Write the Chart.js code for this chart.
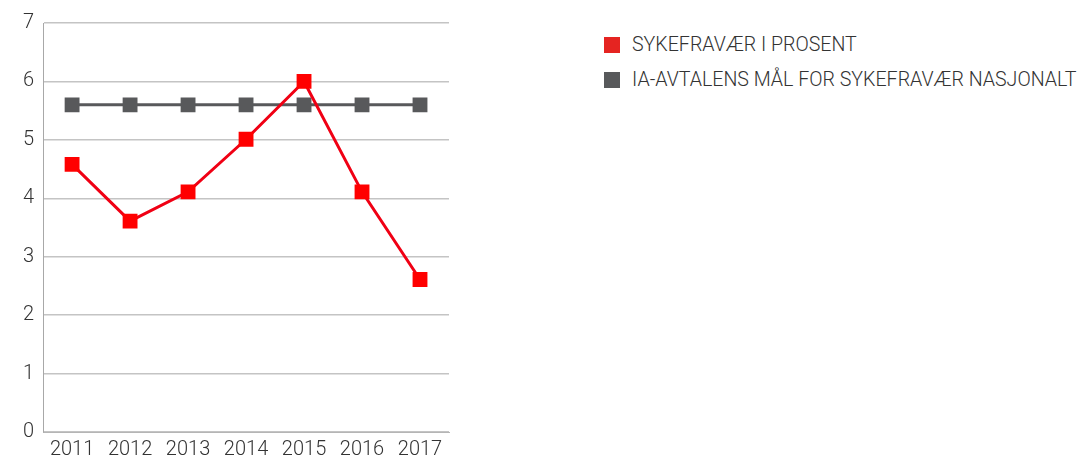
<!DOCTYPE html>
<html>
<head>
<meta charset="utf-8">
<script src="https://cdn.jsdelivr.net/npm/chart.js@4"></script>
<style>
  html, body { margin: 0; padding: 0; background: #fff; overflow: hidden; }
  #wrap { position: relative; width: 1080px; height: 457px; overflow: hidden; }
  #box { position: absolute; left: 0; top: 0; width: 462px; height: 468px; }
  #legend { position: absolute; left: 604px; top: 27px; font-family: Roboto, sans-serif; font-weight: 300; font-size: 19.6px; color: #333; }
  .item { display: flex; align-items: center; height: 35px; }
  .sw { width: 16px; height: 16px; margin-right: 12px; }
</style>
</head>
<body>
<div id="wrap">
  <div id="box"><canvas id="chart"></canvas></div>
  <div id="legend"></div>
</div>
<script>
document.addEventListener('DOMContentLoaded', init);

const years = ['2011', '2012', '2013', '2014', '2015', '2016', '2017'];
const sickLeave = [4.58, 3.61, 4.11, 5.01, 6.0, 4.11, 2.61];
const targetNational = [5.6, 5.6, 5.6, 5.6, 5.6, 5.6, 5.6];
const seriesNames = ['SYKEFRAVÆR I PROSENT', 'IA-AVTALENS MÅL FOR SYKEFRAVÆR NASJONALT'];
const legendColors = ['#e52421', '#58595b'];

let canvas, ctx;

function init()
{
    canvas = document.getElementById('chart');
    ctx = canvas.getContext('2d');
    createChart();
    createLegend();
}

function createChart()
{
    new Chart(ctx,
    {
        type: 'line',
        data: {
            labels: years,
            datasets: [
                {
                    label: seriesNames[0],
                    data: sickLeave,
                    borderColor: '#f00014',
                    backgroundColor: '#ff0000',
                    borderWidth: 3,
                    pointStyle: 'rect',
                    pointRadius: 10.5,
                    pointBorderWidth: 0,
                    tension: 0,
                    order: 0
                },
                {
                    label: seriesNames[1],
                    data: targetNational,
                    borderColor: '#58595b',
                    backgroundColor: '#58595b',
                    borderWidth: 3,
                    pointStyle: 'rect',
                    pointRadius: 10.5,
                    pointBorderWidth: 0,
                    tension: 0,
                    order: 1
                }
            ]
        },
        options: {
            responsive: true,
            maintainAspectRatio: false,
            animation: false,
            layout: {
                padding: { top: 23, right: 13, left: 14, bottom: 0 }
            },
            plugins: {
                legend: { display: false },
                tooltip: { enabled: false }
            },
            scales: {
                x: {
                    offset: true,
                    grid: { display: false, drawTicks: false },
                    border: { color: '#b5b5b5', width: 1 },
                    ticks: {
                        color: '#333',
                        padding: 6,
                        maxRotation: 0,
                        font: { family: 'Roboto', size: 20, weight: 300 }
                    }
                },
                y: {
                    min: 0,
                    max: 7,
                    grid: { color: '#c4c4c4', lineWidth: 1.5, drawTicks: false },
                    border: { color: '#a8a8a8', width: 1 },
                    ticks: {
                        stepSize: 1,
                        color: '#333',
                        padding: 9,
                        font: { family: 'Roboto', size: 20, weight: 300 }
                    }
                }
            }
        }
    });
}

function createLegend()
{
    const legend = document.getElementById('legend');
    seriesNames.forEach((name, i) => {
        const item = document.createElement('div');
        item.className = 'item';
        const sw = document.createElement('span');
        sw.className = 'sw';
        sw.style.background = legendColors[i];
        const txt = document.createElement('span');
        txt.textContent = name;
        item.appendChild(sw);
        item.appendChild(txt);
        legend.appendChild(item);
    });
}
</script>
</body>
</html>
